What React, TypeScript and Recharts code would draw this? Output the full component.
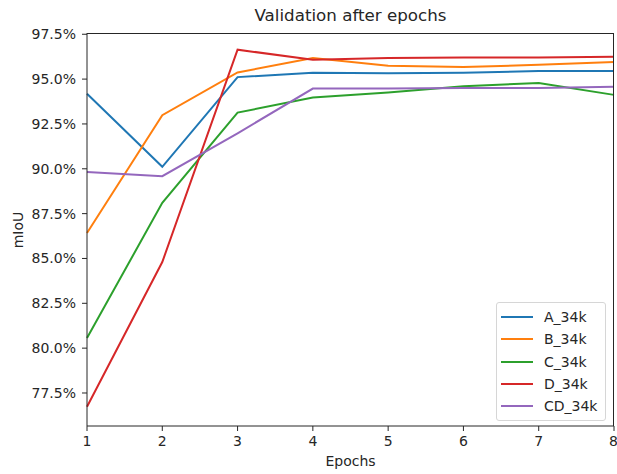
import { LineChart, Line, XAxis, YAxis } from 'recharts';

const epochs = [1, 2, 3, 4, 5, 6, 7, 8];
const aValues = [94.18, 90.11, 95.11, 95.35, 95.33, 95.35, 95.45, 95.45];
const bValues = [86.42, 92.99, 95.37, 96.17, 95.74, 95.67, 95.8, 95.95];
const cValues = [80.57, 88.1, 93.13, 93.97, 94.25, 94.6, 94.78, 94.12];
const dValues = [76.73, 84.8, 96.64, 96.08, 96.17, 96.21, 96.21, 96.25];
const cdValues = [89.82, 89.59, 91.98, 94.47, 94.47, 94.51, 94.51, 94.57];
const yTicks = [77.5, 80, 82.5, 85, 87.5, 90, 92.5, 95, 97.5];

const SERIES = [
  { key: 'A_34k', values: aValues, color: '#1f77b4' },
  { key: 'B_34k', values: bValues, color: '#ff7f0e' },
  { key: 'C_34k', values: cValues, color: '#2ca02c' },
  { key: 'D_34k', values: dValues, color: '#d62728' },
  { key: 'CD_34k', values: cdValues, color: '#9467bd' },
];

const data = epochs.map((epoch, i) => {
  const row: Record<string, number> = { epoch };
  SERIES.forEach((s) => {
    row[s.key] = s.values[i];
  });
  return row;
});

const FONT = '"DejaVu Sans", sans-serif';
const tickStyle = { fontSize: 14, fill: '#262626', fontFamily: FONT };
const axisStroke = '#262626';

// plot box, matches the chart margins below
const PLOT = { left: 87, top: 33, right: 614, bottom: 426 };

const LegendBox = () => (
  <div
    style={{
      position: 'absolute',
      left: 496,
      top: 302,
      border: '1px solid #d6d6d6',
      borderRadius: 3,
      background: 'rgba(255,255,255,0.8)',
      padding: '3px 8px 3px 4px',
      fontFamily: FONT,
      fontSize: 14,
      color: '#262626',
    }}
  >
    {SERIES.map((s) => (
      <div key={s.key} style={{ display: 'flex', alignItems: 'center', height: 22.3 }}>
        <span
          style={{
            display: 'inline-block',
            width: 32,
            height: 2,
            background: s.color,
            marginRight: 11,
          }}
        />
        <span>{s.key}</span>
      </div>
    ))}
  </div>
);

export default function App() {
  return (
    <div style={{ position: 'absolute', left: 0, top: 0, width: 617, height: 474, background: '#fff' }}>
      <div
        style={{
          position: 'absolute',
          left: PLOT.left,
          width: PLOT.right - PLOT.left,
          top: 5,
          textAlign: 'center',
          fontFamily: FONT,
          fontSize: 16.7,
          color: '#262626',
        }}
      >
        Validation after epochs
      </div>
      <div
        style={{
          position: 'absolute',
          left: PLOT.left,
          width: PLOT.right - PLOT.left,
          top: 453,
          textAlign: 'center',
          fontFamily: FONT,
          fontSize: 14,
          color: '#262626',
        }}
      >
        Epochs
      </div>
      <div
        style={{
          position: 'absolute',
          left: 18,
          top: 230,
          transform: 'translate(-50%, -50%) rotate(-90deg)',
          fontFamily: FONT,
          fontSize: 14,
          color: '#262626',
        }}
      >
        mIoU
      </div>
      <LineChart
        width={617}
        height={474}
        data={data}
        margin={{ top: PLOT.top, right: 617 - PLOT.right, bottom: 0, left: 0 }}
      >
        <XAxis
          dataKey='epoch'
          type='number'
          domain={[1, 8]}
          ticks={epochs}
          tick={tickStyle}
          tickSize={5}
          tickMargin={5}
          stroke={axisStroke}
          height={474 - PLOT.bottom}
        />
        <YAxis
          type='number'
          domain={[75.66, 97.57]}
          ticks={yTicks}
          tickFormatter={(v: number) => `${v.toFixed(1)}%`}
          tick={tickStyle}
          tickSize={5}
          tickMargin={6}
          stroke={axisStroke}
          width={PLOT.left}
          allowDataOverflow
        />
        {SERIES.map((s) => (
          <Line
            key={s.key}
            dataKey={s.key}
            stroke={s.color}
            strokeWidth={2}
            dot={false}
            isAnimationActive={false}
          />
        ))}
      </LineChart>
      <div
        style={{
          position: 'absolute',
          left: PLOT.left,
          top: PLOT.top,
          width: PLOT.right - PLOT.left,
          height: PLOT.bottom - PLOT.top,
          boxSizing: 'border-box',
          borderTop: `1px solid ${axisStroke}`,
          borderRight: `1px solid ${axisStroke}`,
          pointerEvents: 'none',
        }}
      />
      <LegendBox />
    </div>
  );
}
